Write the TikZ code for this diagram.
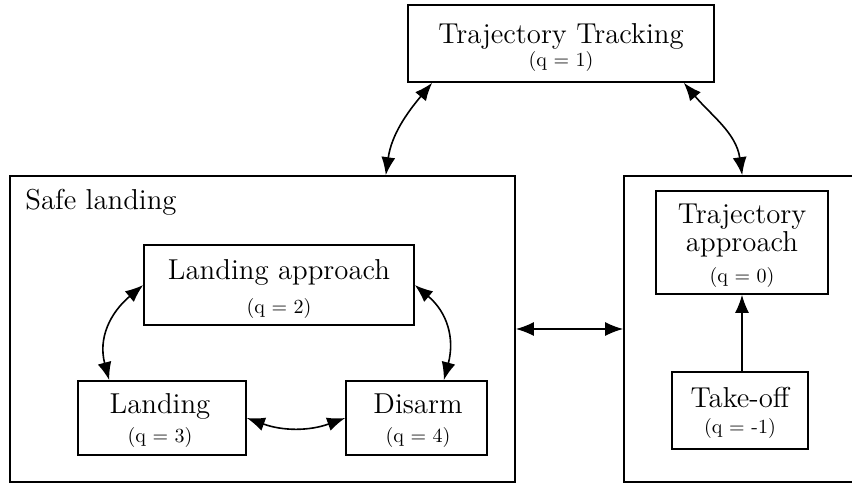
\documentclass[tikz,border=0pt]{standalone}
\usetikzlibrary{arrows.meta}
\begin{document}
\begin{tikzpicture}[x=0.5pt,y=0.5pt,
  box/.style={draw, line width=0.8pt, rectangle, inner sep=0pt},
  ttl/.style={font=\Large, anchor=base, inner sep=0pt},
  sub/.style={font=\normalsize, anchor=base, inner sep=0pt},
  conn/.style={line width=0.8pt, {Latex[length=9pt,width=7pt]}-{Latex[length=9pt,width=7pt]}},
  oneway/.style={line width=0.8pt, -{Latex[length=9pt,width=7pt]}}]
\useasboundingbox (0,0) rectangle (852,484);
\clip (0,0) rectangle (852,484);
% boxes
\node[box, minimum width=153pt, minimum height=38.5pt] (tt) at (561,440.5) {};
\node[box, minimum width=252.5pt, minimum height=153pt] (sl) at (262.5,155) {};
\node[box, minimum width=128pt, minimum height=153pt] (rb) at (752,155) {};
\node[box, minimum width=135pt, minimum height=40pt] (la) at (279,199) {};
\node[box, minimum width=84pt, minimum height=37pt] (ld) at (162,66) {};
\node[box, minimum width=70.5pt, minimum height=37pt] (ds) at (416.5,66) {};
\node[box, minimum width=86pt, minimum height=51.5pt] (ta) at (742,241.5) {};
\node[box, minimum width=68pt, minimum height=38.5pt] (to) at (740,73.5) {};
% texts
\node[ttl] (ttT) at (561,441) {Trajectory Tracking};
\node[sub] (ttq) at (561,418) {(q = 1)};
\node[ttl, anchor=base west] (slT) at (25,275) {Safe landing};
\node[ttl] (laT) at (279,205) {Landing approach};
\node[sub] (laq) at (279,171) {(q = 2)};
\node[ttl] (ldT) at (160,71) {Landing};
\node[sub] (ldq) at (160,42) {(q = 3)};
\node[ttl] (dsT) at (418,71) {Disarm};
\node[sub] (dsq) at (418,42) {(q = 4)};
\node[ttl] (taT1) at (742,261) {Trajectory};
\node[ttl] (taT2) at (742,233) {approach};
\node[sub] (taq) at (742,202) {(q = 0)};
\node[ttl] (toT) at (740,77) {Take-off};
\node[sub] (toq) at (740,51) {(q = -1)};
% connectors
\draw[conn] ([xshift=12.5pt]tt.south west) to[out=-130,in=82] ([xshift=-65pt]sl.north east);
\draw[conn] ([xshift=-15.5pt]tt.south east) to[out=-50,in=98] ([xshift=59.5pt]rb.north west);
\draw[conn] (la.west) to[out=-140,in=105,looseness=1.1] ([xshift=16pt]ld.north west);
\draw[conn] (la.east) to[out=-40,in=75,looseness=1.1] ([xshift=-22pt]ds.north east);
\draw[conn] (ld.east) to[out=-20,in=-160] (ds.west);
\draw[conn] (sl.east) -- (rb.west);
\draw[oneway] (ta.south |- to.north) -- (ta.south);
\end{tikzpicture}
\end{document}
